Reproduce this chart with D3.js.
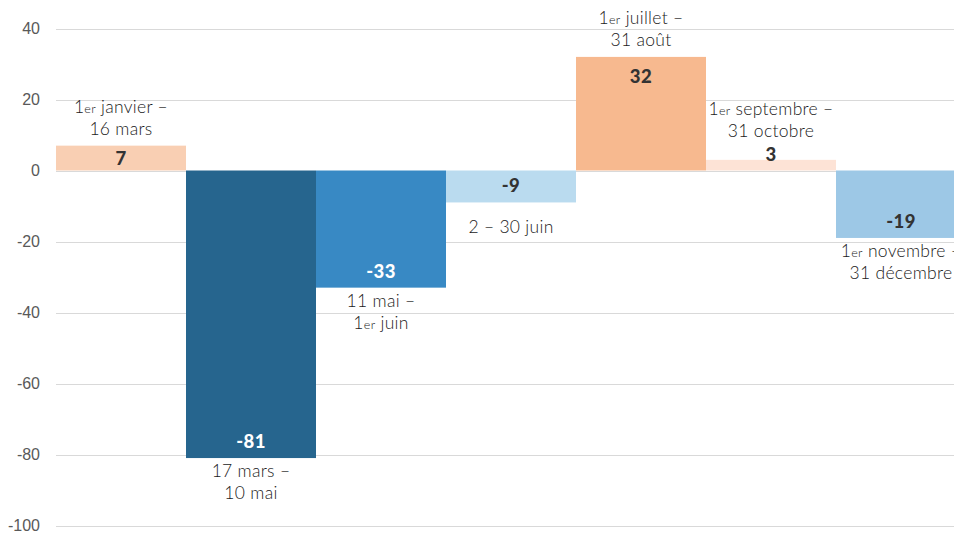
<!DOCTYPE html>
<html>
<head>
<meta charset="utf-8">
<script src="https://cdn.jsdelivr.net/npm/d3@7"></script>
<style>
  body { margin: 0; background: #fff; }
  svg { display: block; }
</style>
</head>
<body>
<div id="chart"></div>
<script>
// periods of the year, one label per bar (lines split on "|")
const periods = [
  "1er janvier –|16 mars",
  "17 mars –|10 mai",
  "11 mai –|1er juin",
  "2 – 30 juin",
  "1er juillet –|31 août",
  "1er septembre –|31 octobre",
  "1er novembre –|31 décembre"
]
const values = [7, -81, -33, -9, 32, 3, -19]
const yTicks = [40, 20, 0, -20, -40, -60, -80, -100]

const barColors = ["#f9cfb3", "#26658e", "#3889c4", "#badbef", "#f7b98f", "#fde3d6", "#9dc8e6"]

const width = 954
const height = 534

const svg = d3.select("#chart").append("svg")
    .attr("width", width)
    .attr("height", height)

const x = d3.scaleBand()
    .domain(periods)
    .range([56, 966])
    .padding(0)

const y = d3.scaleLinear()
    .domain([-100, 40])
    .range([525.5, 28.5])

// grid
svg.append("g").selectAll("line")
  .data(yTicks)
  .join("line")
    .attr("x1", 56)
    .attr("x2", width)
    .attr("y1", d => Math.round(y(d)) + 0.5)
    .attr("y2", d => Math.round(y(d)) + 0.5)
    .attr("stroke", "#d9d9d9")
    .attr("stroke-width", 1)

svg.append("g").selectAll("text")
  .data(yTicks)
  .join("text")
    .attr("x", 40)
    .attr("y", d => y(d))
    .attr("dy", "0.36em")
    .attr("text-anchor", "end")
    .attr("font-family", "'Liberation Sans', Arial, sans-serif")
    .attr("font-size", 16)
    .attr("fill", "#595959")
    .text(d => d)

// bars
svg.append("g").selectAll("rect")
  .data(values)
  .join("rect")
    .attr("x", (d, i) => x(periods[i]))
    .attr("width", x.bandwidth())
    .attr("y", d => y(Math.max(0, d)))
    .attr("height", d => Math.abs(y(d) - y(0)))
    .attr("fill", (d, i) => barColors[i])

const valFont = 18.5
const catFont = 17.5
const lineH = 22

const labels = svg.append("g")

values.forEach(function(v, i) {
  const cx = x(periods[i]) + x.bandwidth() / 2
  const h = Math.abs(y(v) - y(0))
  const dark = d3.hsl(barColors[i]).l < 0.5
  let valBase, lines = periods[i].split("|"), firstCenter

  if (v >= 0) {
    let anchorTop
    if (h < 15) {
      valBase = y(v) + 1
      anchorTop = valBase - 13
    } else {
      valBase = Math.min(y(v) + 26, y(0) - 6)
      anchorTop = y(v)
    }
    const lastCenter = anchorTop - 17
    firstCenter = lastCenter - (lines.length - 1) * lineH
  } else {
    valBase = y(v) - 10
    firstCenter = y(v) + 13 + (2 - lines.length) * lineH / 2
  }

  labels.append("text")
    .attr("x", cx)
    .attr("y", valBase)
    .attr("text-anchor", "middle")
    .attr("font-family", "Lato, sans-serif")
    .attr("font-weight", 900)
    .attr("font-size", valFont)
    .attr("letter-spacing", 0.4)
    .attr("fill", dark ? "#ffffff" : "#333333")
    .text(v)

  lines.forEach(function(line, k) {
    const t = labels.append("text")
        .attr("x", cx)
        .attr("y", firstCenter + k * lineH + 0.35 * catFont)
        .attr("text-anchor", "middle")
        .attr("font-family", "Lato, sans-serif")
        .attr("font-weight", 300)
        .attr("font-size", catFont)
        .attr("letter-spacing", 0.3)
        .attr("fill", "#1a1a1a")
    // "1er" : small "er"
    const parts = line.split(/(1er)/)
    parts.forEach(function(p) {
      if (p === "") return
      if (p === "1er") {
        t.append("tspan").text("1")
        t.append("tspan").attr("font-size", catFont * 0.72).text("er")
      } else {
        t.append("tspan").text(p)
      }
    })
  })
})
</script>
</body>
</html>
